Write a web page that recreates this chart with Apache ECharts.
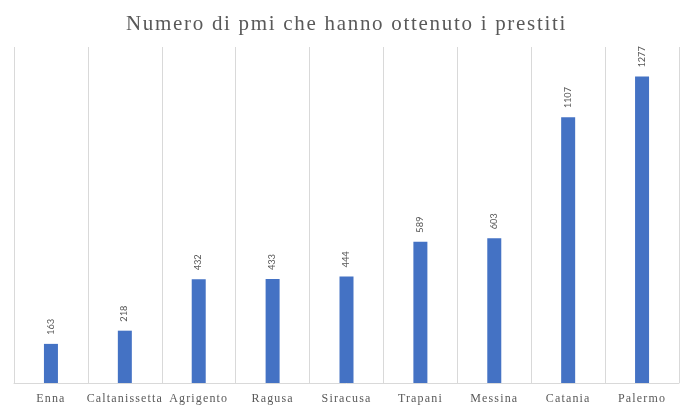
<!DOCTYPE html>
<html>
<head>
<meta charset="utf-8">
<script src="https://cdn.jsdelivr.net/npm/echarts@6/dist/echarts.min.js"></script>
<style>html,body{margin:0;padding:0;background:#fff}#c{width:693px;height:410px}</style>
</head>
<body>
<div id="c"></div>
<script>
var titleText = 'Numero di pmi che hanno ottenuto i prestiti';
var categories = ['Enna', 'Caltanissetta', 'Agrigento', 'Ragusa', 'Siracusa', 'Trapani', 'Messina', 'Catania', 'Palermo'];
var values = [163, 218, 432, 433, 444, 589, 603, 1107, 1277];

// letter-spacing for the serif texts (title and category labels), as in the reference
(function () {
  var proto = CanvasRenderingContext2D.prototype;
  if (!('letterSpacing' in proto)) return;
  var origFill = proto.fillText, origMeasure = proto.measureText;
  function applySpacing(ctx) {
    var f = ctx.font || '';
    if (/Liberation Serif/.test(f)) {
      var m = /(\d+(?:\.\d+)?)px/.exec(f);
      var size = m ? parseFloat(m[1]) : 12;
      ctx.letterSpacing = (size >= 18 ? 1.7 : 1.15) + 'px';
    } else {
      ctx.letterSpacing = '0px';
    }
  }
  proto.fillText = function () { applySpacing(this); return origFill.apply(this, arguments); };
  proto.measureText = function () { applySpacing(this); return origMeasure.apply(this, arguments); };
})();

var chart = echarts.init(document.getElementById('c'), null, {renderer: 'canvas'});
chart.setOption({
  animation: false,
  backgroundColor: '#ffffff',
  title: {
    text: titleText,
    left: 'center',
    top: 8,
    textStyle: {fontFamily: 'Liberation Serif', fontSize: 21, fontWeight: 'normal', color: '#595959'}
  },
  grid: {left: 14, right: 14, top: 47, bottom: 27},
  xAxis: {
    type: 'category',
    data: categories,
    boundaryGap: true,
    axisLine: {show: true, lineStyle: {color: '#d9d9d9', width: 1}},
    axisTick: {show: false},
    splitLine: {show: true, lineStyle: {color: '#d9d9d9', width: 1}},
    axisLabel: {fontFamily: 'Liberation Serif', fontSize: 12, color: '#595959', margin: 9, interval: 0}
  },
  yAxis: {
    type: 'value',
    min: 0,
    max: 1400,
    interval: 200,
    show: false,
    splitLine: {show: false}
  },
  series: [{
    type: 'bar',
    data: values,
    barWidth: 14,
    itemStyle: {color: '#4472C4'},
    label: {
      show: true,
      position: 'top',
      rotate: 90,
      align: 'left',
      verticalAlign: 'middle',
      distance: 9,
      fontFamily: 'Carlito, Liberation Sans, sans-serif',
      fontSize: 10.5,
      color: '#595959'
    }
  }]
});
</script>
</body>
</html>
